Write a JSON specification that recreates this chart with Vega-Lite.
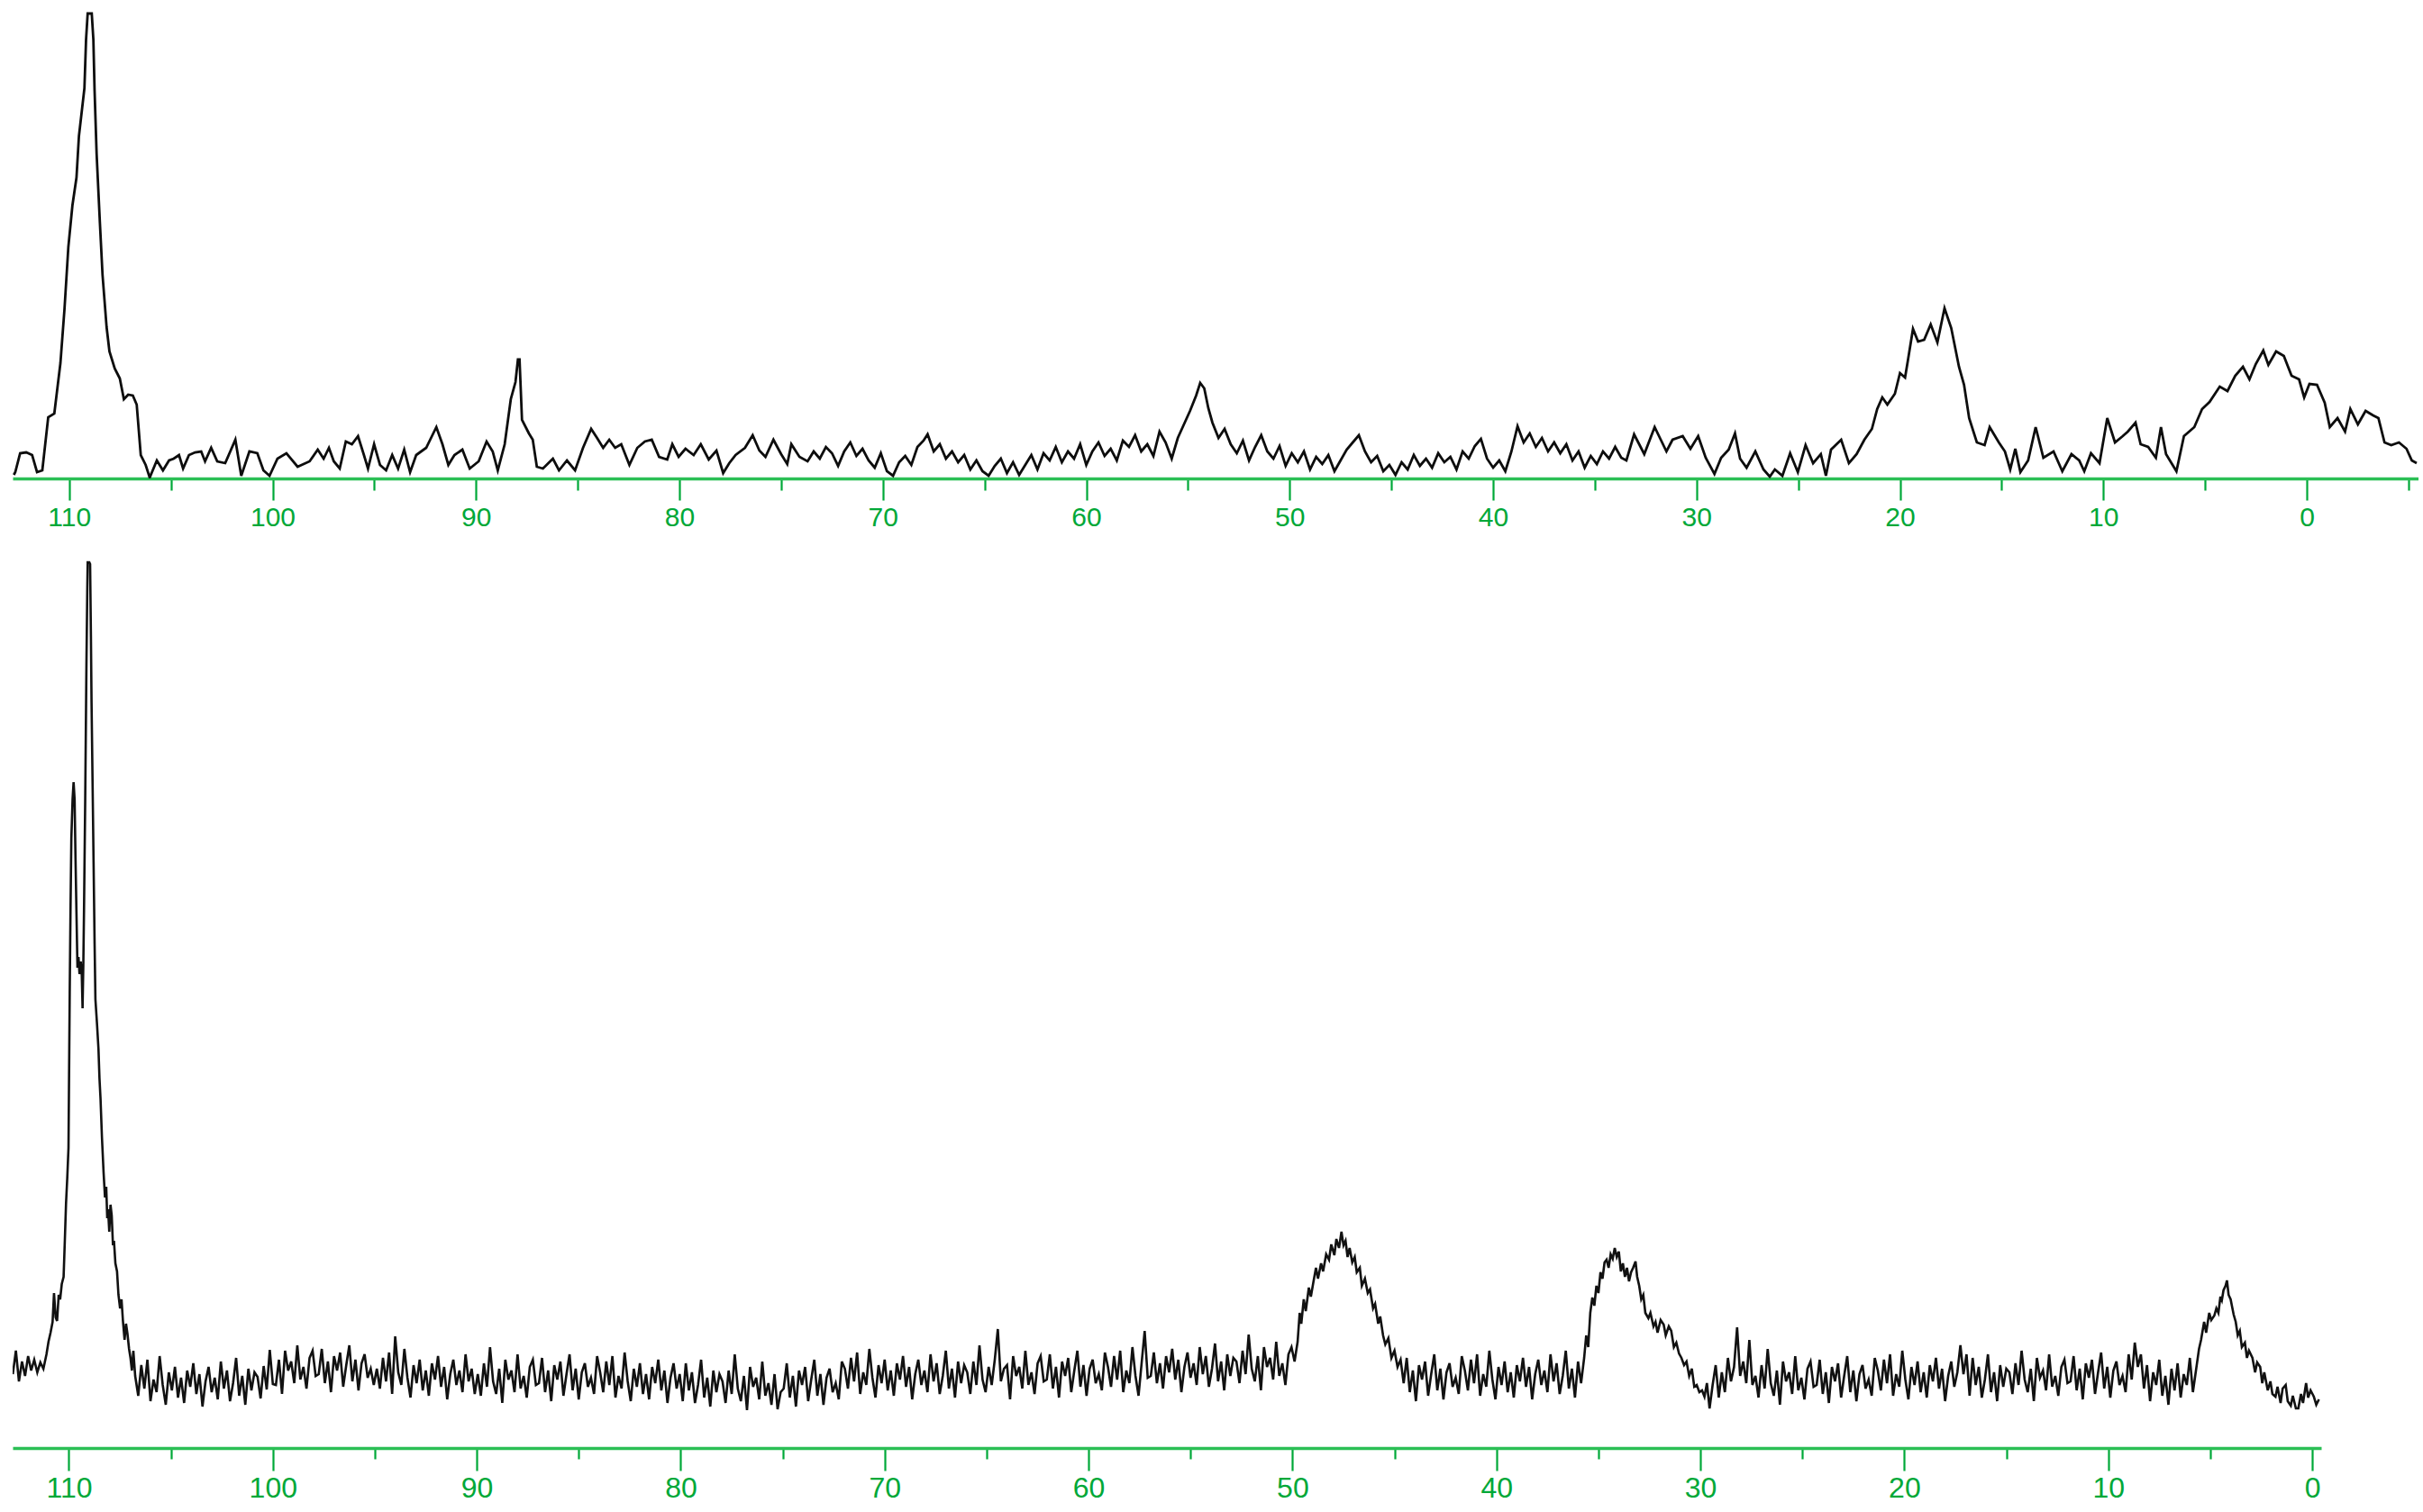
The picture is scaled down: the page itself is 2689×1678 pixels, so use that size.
{
"$schema":"https://vega.github.io/schema/vega-lite/v6.json",
"padding":{"left":14,"top":0,"right":0,"bottom":0},
"autosize":{"type":"pad"},
"background":"white",
"bounds":"flush",
"spacing":79,
"config":{"view":{"stroke":null},"axis":{"title":null,"grid":false,"domainColor":"#2bbf55","domainWidth":3.5,"tickColor":"#00a838","tickWidth":2.2,"labelColor":"#00a838","labelFont":"Liberation Sans","labelFlush":false,"labelOverlap":false}},
"datasets":{
"top":[
{"x":112.72,"y":4},{"x":112.65,"y":7},{"x":112.41,"y":28},{"x":112.11,"y":29},{"x":111.82,"y":26},{"x":111.58,"y":7},{"x":111.32,"y":9},{"x":111.03,"y":68},{"x":110.73,"y":72},{"x":110.43,"y":128},{"x":110.23,"y":188},{"x":110.04,"y":257},{"x":109.84,"y":303},{"x":109.64,"y":334},{"x":109.52,"y":380},{"x":109.25,"y":433},{"x":109.17,"y":487},{"x":109.09,"y":516},{"x":108.89,"y":516},{"x":108.81,"y":487},{"x":108.75,"y":430},{"x":108.65,"y":360},{"x":108.49,"y":284},{"x":108.36,"y":226},{"x":108.16,"y":168},{"x":108.02,"y":141},{"x":107.76,"y":122},{"x":107.51,"y":111},{"x":107.31,"y":88},{"x":107.1,"y":93},{"x":106.87,"y":92},{"x":106.68,"y":82},{"x":106.48,"y":26},{"x":106.24,"y":15},{"x":106.04,"y":1},{"x":105.69,"y":20},{"x":105.39,"y":9},{"x":105.09,"y":20},{"x":104.86,"y":22},{"x":104.6,"y":26},{"x":104.4,"y":11},{"x":104.11,"y":26},{"x":103.81,"y":29},{"x":103.51,"y":30},{"x":103.32,"y":19},{"x":103.02,"y":34},{"x":102.72,"y":19},{"x":102.33,"y":17},{"x":101.83,"y":43},{"x":101.54,"y":3},{"x":101.14,"y":30},{"x":100.75,"y":28},{"x":100.45,"y":9},{"x":100.15,"y":3},{"x":99.76,"y":22},{"x":99.32,"y":28},{"x":98.77,"y":13},{"x":98.18,"y":19},{"x":97.78,"y":32},{"x":97.49,"y":22},{"x":97.23,"y":34},{"x":96.99,"y":19},{"x":96.7,"y":11},{"x":96.4,"y":41},{"x":96.1,"y":38},{"x":95.8,"y":47},{"x":95.51,"y":26},{"x":95.31,"y":11},{"x":95.01,"y":38},{"x":94.72,"y":15},{"x":94.42,"y":9},{"x":94.12,"y":26},{"x":93.83,"y":11},{"x":93.53,"y":32},{"x":93.24,"y":7},{"x":92.94,"y":26},{"x":92.45,"y":34},{"x":91.95,"y":57},{"x":91.65,"y":38},{"x":91.36,"y":15},{"x":91.06,"y":26},{"x":90.67,"y":32},{"x":90.31,"y":11},{"x":89.87,"y":19},{"x":89.48,"y":41},{"x":89.18,"y":30},{"x":88.93,"y":9},{"x":88.59,"y":38},{"x":88.29,"y":88},{"x":88.06,"y":107},{"x":87.94,"y":132},{"x":87.86,"y":132},{"x":87.74,"y":65},{"x":87.4,"y":50},{"x":87.21,"y":43},{"x":87.01,"y":13},{"x":86.71,"y":11},{"x":86.22,"y":22},{"x":85.92,"y":9},{"x":85.53,"y":20},{"x":85.13,"y":9},{"x":84.74,"y":34},{"x":84.34,"y":55},{"x":84.05,"y":45},{"x":83.75,"y":34},{"x":83.45,"y":43},{"x":83.16,"y":34},{"x":82.86,"y":38},{"x":82.46,"y":15},{"x":82.07,"y":34},{"x":81.7,"y":41},{"x":81.36,"y":43},{"x":81.0,"y":24},{"x":80.6,"y":21},{"x":80.35,"y":38},{"x":80.04,"y":24},{"x":79.7,"y":33},{"x":79.3,"y":26},{"x":78.95,"y":38},{"x":78.56,"y":21},{"x":78.18,"y":31},{"x":77.85,"y":6},{"x":77.55,"y":17},{"x":77.24,"y":26},{"x":76.78,"y":34},{"x":76.4,"y":48},{"x":76.07,"y":31},{"x":75.77,"y":24},{"x":75.38,"y":43},{"x":75.0,"y":27},{"x":74.7,"y":16},{"x":74.5,"y":38},{"x":74.1,"y":24},{"x":73.7,"y":19},
{"x":73.4,"y":30},{"x":73.1,"y":22},{"x":72.8,"y":35},{"x":72.5,"y":28},{"x":72.2,"y":14},{"x":71.9,"y":30},{"x":71.6,"y":40},{"x":71.3,"y":25},{"x":71.0,"y":33},{"x":70.7,"y":20},{"x":70.4,"y":12},{"x":70.1,"y":28},{"x":69.8,"y":8},{"x":69.5,"y":3},{"x":69.2,"y":18},{"x":68.9,"y":25},{"x":68.6,"y":15},{"x":68.3,"y":35},{"x":68.0,"y":42},{"x":67.8,"y":49},{"x":67.5,"y":30},{"x":67.2,"y":38},{"x":66.9,"y":22},{"x":66.6,"y":30},{"x":66.3,"y":18},{"x":66.0,"y":26},{"x":65.7,"y":10},{"x":65.4,"y":20},{"x":65.1,"y":8},{"x":64.8,"y":3},{"x":64.5,"y":14},{"x":64.2,"y":22},{"x":63.9,"y":6},{"x":63.6,"y":18},{"x":63.3,"y":4},{"x":63.0,"y":15},{"x":62.7,"y":26},{"x":62.4,"y":10},{"x":62.1,"y":28},{"x":61.8,"y":20},{"x":61.5,"y":35},{"x":61.2,"y":18},{"x":60.9,"y":30},{"x":60.6,"y":22},{"x":60.3,"y":38},{"x":60.0,"y":15},{"x":59.7,"y":30},{"x":59.4,"y":40},{"x":59.1,"y":25},{"x":58.8,"y":33},{"x":58.5,"y":20},{"x":58.2,"y":42},{"x":57.9,"y":35},{"x":57.6,"y":48},{"x":57.3,"y":30},{"x":57.0,"y":38},{"x":56.7,"y":25},{"x":56.4,"y":52},{"x":56.1,"y":40},{"x":55.8,"y":22},{"x":55.5,"y":45},{"x":55.2,"y":60},{"x":54.9,"y":75},{"x":54.6,"y":92},{"x":54.4,"y":106},{"x":54.2,"y":100},{"x":54.0,"y":78},{"x":53.8,"y":62},{"x":53.5,"y":45},{"x":53.2,"y":55},{"x":52.9,"y":38},{"x":52.6,"y":28},{"x":52.3,"y":42},{"x":52.0,"y":20},{"x":51.7,"y":35},{"x":51.4,"y":48},{"x":51.1,"y":30},{"x":50.8,"y":22},{"x":50.5,"y":36},{"x":50.2,"y":14},{"x":49.9,"y":28},{"x":49.6,"y":18},{"x":49.3,"y":30},{"x":49.0,"y":10},{"x":48.7,"y":24},{"x":48.4,"y":16},{"x":48.1,"y":26},{"x":47.8,"y":8},{"x":47.5,"y":20},{"x":47.2,"y":32},{"x":46.9,"y":40},{"x":46.6,"y":48},{"x":46.3,"y":30},{"x":46.0,"y":18},{"x":45.7,"y":25},{"x":45.4,"y":8},{"x":45.1,"y":15},{"x":44.8,"y":4},{"x":44.5,"y":18},{"x":44.2,"y":10},{"x":43.9,"y":26},{"x":43.6,"y":14},{"x":43.3,"y":22},{"x":43.0,"y":12},{"x":42.7,"y":28},{"x":42.4,"y":18},{"x":42.1,"y":24},{"x":41.8,"y":10},{"x":41.5,"y":30},{"x":41.2,"y":22},{"x":40.9,"y":36},{"x":40.6,"y":44},{"x":40.3,"y":22},{"x":40.0,"y":12},{"x":39.7,"y":20},{"x":39.4,"y":8},{"x":39.1,"y":30},{"x":38.8,"y":58},{"x":38.5,"y":40},{"x":38.2,"y":50},{"x":37.9,"y":35},{"x":37.6,"y":45},{"x":37.3,"y":30},{"x":37.0,"y":40},{"x":36.7,"y":28},{"x":36.4,"y":38},{"x":36.1,"y":20},{"x":35.8,"y":30},{"x":35.5,"y":12},{"x":35.2,"y":25},{"x":34.9,"y":16},{"x":34.6,"y":30},{"x":34.3,"y":22},{"x":34.0,"y":35},
{"x":33.7,"y":23},{"x":33.45,"y":20},{"x":33.07,"y":49},{"x":32.57,"y":27},{"x":32.06,"y":57},{"x":31.48,"y":30},{"x":31.18,"y":43},{"x":30.68,"y":47},{"x":30.3,"y":33},{"x":29.92,"y":47},{"x":29.55,"y":23},{"x":29.12,"y":5},{"x":28.79,"y":23},{"x":28.42,"y":32},{"x":28.11,"y":50},{"x":27.86,"y":22},{"x":27.54,"y":12},{"x":27.11,"y":30},{"x":26.71,"y":10},{"x":26.4,"y":2},{"x":26.15,"y":10},{"x":25.78,"y":3},{"x":25.4,"y":28},{"x":25.02,"y":7},{"x":24.64,"y":37},{"x":24.27,"y":17},{"x":23.89,"y":27},{"x":23.64,"y":3},{"x":23.39,"y":32},{"x":22.89,"y":43},{"x":22.51,"y":17},{"x":22.13,"y":27},{"x":21.75,"y":43},{"x":21.38,"y":55},{"x":21.12,"y":77},{"x":20.87,"y":90},{"x":20.62,"y":82},{"x":20.25,"y":94},{"x":20.0,"y":117},{"x":19.75,"y":112},{"x":19.61,"y":131},{"x":19.36,"y":166},{"x":19.11,"y":152},{"x":18.81,"y":154},{"x":18.49,"y":171},{"x":18.16,"y":151},{"x":17.81,"y":189},{"x":17.48,"y":167},{"x":17.1,"y":124},{"x":16.85,"y":104},{"x":16.6,"y":67},{"x":16.22,"y":40},{"x":15.84,"y":37},{"x":15.59,"y":57},{"x":15.14,"y":40},{"x":14.84,"y":30},{"x":14.58,"y":10},{"x":14.33,"y":33},{"x":14.08,"y":7},{"x":13.7,"y":20},{"x":13.33,"y":57},{"x":12.95,"y":23},{"x":12.45,"y":30},{"x":12.02,"y":8},{"x":11.57,"y":27},{"x":11.19,"y":20},{"x":10.94,"y":8},{"x":10.61,"y":28},{"x":10.19,"y":17},{"x":9.81,"y":67},{"x":9.43,"y":40},{"x":9.05,"y":47},{"x":8.8,"y":52},{"x":8.42,"y":62},{"x":8.17,"y":38},{"x":7.8,"y":35},{"x":7.42,"y":23},{"x":7.17,"y":57},{"x":6.92,"y":27},{"x":6.41,"y":8},{"x":6.04,"y":47},{"x":5.53,"y":57},{"x":5.15,"y":77},{"x":4.78,"y":85},{"x":4.28,"y":102},{"x":3.9,"y":97},{"x":3.52,"y":114},{"x":3.14,"y":124},{"x":2.82,"y":110},{"x":2.51,"y":127},{"x":2.14,"y":142},{"x":1.89,"y":126},{"x":1.51,"y":141},{"x":1.13,"y":136},{"x":0.75,"y":114},{"x":0.38,"y":110},{"x":0.13,"y":90},{"x":-0.13,"y":105},{"x":-0.5,"y":104},{"x":-0.88,"y":84},{"x":-1.13,"y":57},{"x":-1.51,"y":67},{"x":-1.88,"y":52},{"x":-2.14,"y":77},{"x":-2.51,"y":60},{"x":-2.89,"y":75},{"x":-3.26,"y":70},{"x":-3.52,"y":67},{"x":-3.82,"y":40},{"x":-4.15,"y":37},{"x":-4.53,"y":40},{"x":-4.9,"y":33},{"x":-5.16,"y":20},{"x":-5.4,"y":17}
],
"bottom":[
{"x":112.75,"y":82},{"x":112.6,"y":108},{"x":112.45,"y":74},{"x":112.3,"y":96},{"x":112.15,"y":80},{"x":112.0,"y":102},{"x":111.85,"y":86},{"x":111.7,"y":98},{"x":111.55,"y":84},{"x":111.4,"y":95},{"x":111.25,"y":88},{"x":111.1,"y":104},
{"x":111.0,"y":118},{"x":110.9,"y":128},{"x":110.8,"y":140},{"x":110.73,"y":172},{"x":110.65,"y":145},{"x":110.58,"y":141},{"x":110.5,"y":170},{"x":110.43,"y":165},{"x":110.35,"y":182},{"x":110.26,"y":190},{"x":110.2,"y":230},{"x":110.14,"y":272},{"x":110.08,"y":300},{"x":110.02,"y":333},{"x":109.96,"y":505},{"x":109.92,"y":600},{"x":109.88,"y":677},{"x":109.82,"y":720},{"x":109.77,"y":739},{"x":109.72,"y":720},{"x":109.68,"y":660},{"x":109.63,"y":595},{"x":109.58,"y":533},{"x":109.53,"y":545},{"x":109.48,"y":526},{"x":109.42,"y":540},{"x":109.37,"y":526},{"x":109.33,"y":488},{"x":109.29,"y":540},{"x":109.26,"y":595},{"x":109.2,"y":720},{"x":109.14,"y":870},{"x":109.1,"y":950},{"x":109.08,"y":983},{"x":109.0,"y":983},{"x":108.96,"y":981},{"x":108.92,"y":900},{"x":108.89,"y":828},{"x":108.84,"y":740},{"x":108.79,"y":650},{"x":108.74,"y":560},{"x":108.7,"y":498},{"x":108.62,"y":470},{"x":108.55,"y":443},{"x":108.5,"y":410},{"x":108.45,"y":388},{"x":108.38,"y":345},{"x":108.3,"y":306},{"x":108.23,"y":278},{"x":108.17,"y":290},{"x":108.12,"y":255},{"x":108.08,"y":265},{"x":108.02,"y":240},{"x":107.96,"y":270},{"x":107.9,"y":258},{"x":107.84,"y":225},{"x":107.79,"y":230},{"x":107.72,"y":205},{"x":107.64,"y":196},{"x":107.57,"y":170},{"x":107.49,"y":155},{"x":107.42,"y":165},{"x":107.35,"y":141},{"x":107.27,"y":120},{"x":107.2,"y":138},{"x":107.13,"y":127},{"x":107.05,"y":110},{"x":106.98,"y":100},{"x":106.91,"y":86},{"x":106.84,"y":108},
{"x":106.75,"y":80},{"x":106.6,"y":58},{"x":106.45,"y":92},{"x":106.3,"y":66},{"x":106.15,"y":98},{"x":106.0,"y":52},{"x":105.85,"y":76},{"x":105.7,"y":62},{"x":105.55,"y":102},{"x":105.4,"y":70},{"x":105.25,"y":48},{"x":105.1,"y":84},{"x":104.95,"y":64},{"x":104.8,"y":90},{"x":104.65,"y":56},{"x":104.5,"y":78},{"x":104.35,"y":50},{"x":104.2,"y":86},{"x":104.05,"y":68},{"x":103.9,"y":94},{"x":103.75,"y":60},{"x":103.6,"y":82},{"x":103.45,"y":46},{"x":103.3,"y":74},{"x":103.15,"y":90},{"x":103.0,"y":62},{"x":102.85,"y":78},{"x":102.7,"y":54},{"x":102.55,"y":96},{"x":102.4,"y":66},{"x":102.25,"y":86},{"x":102.1,"y":52},{"x":101.95,"y":72},{"x":101.8,"y":100},{"x":101.65,"y":58},{"x":101.5,"y":80},{"x":101.35,"y":48},{"x":101.2,"y":88},{"x":101.05,"y":64},{"x":100.9,"y":84},{"x":100.75,"y":79},{"x":100.6,"y":55},{"x":100.45,"y":91},{"x":100.3,"y":65},{"x":100.15,"y":109},{"x":100.0,"y":71},
{"x":99.85,"y":70},{"x":99.7,"y":98},{"x":99.55,"y":60},{"x":99.4,"y":108},{"x":99.25,"y":86},{"x":99.1,"y":96},{"x":98.95,"y":72},{"x":98.8,"y":114},{"x":98.65,"y":76},{"x":98.5,"y":90},{"x":98.35,"y":66},{"x":98.2,"y":100},{"x":98.05,"y":108},{"x":97.9,"y":80},{"x":97.75,"y":82},{"x":97.6,"y":110},{"x":97.45,"y":72},{"x":97.3,"y":96},{"x":97.15,"y":62},{"x":97.0,"y":102},{"x":96.85,"y":86},{"x":96.7,"y":106},{"x":96.55,"y":68},{"x":96.4,"y":92},{"x":96.25,"y":114},{"x":96.1,"y":74},{"x":95.95,"y":98},{"x":95.8,"y":64},{"x":95.65,"y":94},{"x":95.5,"y":104},{"x":95.35,"y":78},{"x":95.2,"y":88},{"x":95.05,"y":70},
{"x":94.9,"y":88},{"x":94.75,"y":66},{"x":94.6,"y":100},{"x":94.45,"y":74},{"x":94.3,"y":106},{"x":94.15,"y":60},{"x":94.0,"y":124},{"x":93.85,"y":84},{"x":93.7,"y":70},{"x":93.55,"y":110},{"x":93.4,"y":78},{"x":93.25,"y":56},{"x":93.1,"y":92},{"x":92.95,"y":72},{"x":92.8,"y":98},{"x":92.65,"y":64},{"x":92.5,"y":86},{"x":92.35,"y":58},{"x":92.2,"y":94},{"x":92.05,"y":76},{"x":91.9,"y":102},{"x":91.75,"y":68},{"x":91.6,"y":90},{"x":91.45,"y":54},{"x":91.3,"y":82},{"x":91.15,"y":98},{"x":91.0,"y":70},{"x":90.85,"y":86},{"x":90.7,"y":62},{"x":90.55,"y":104},{"x":90.4,"y":74},{"x":90.25,"y":88},{"x":90.1,"y":60},
{"x":89.95,"y":82},{"x":89.8,"y":58},{"x":89.65,"y":94},{"x":89.5,"y":68},{"x":89.35,"y":112},{"x":89.2,"y":74},{"x":89.05,"y":60},{"x":88.9,"y":88},{"x":88.75,"y":50},{"x":88.6,"y":98},{"x":88.45,"y":76},{"x":88.3,"y":86},{"x":88.15,"y":62},{"x":88.0,"y":104},{"x":87.85,"y":66},{"x":87.7,"y":80},{"x":87.55,"y":56},{"x":87.4,"y":90},{"x":87.25,"y":98},{"x":87.1,"y":70},{"x":86.95,"y":72},{"x":86.8,"y":100},{"x":86.65,"y":62},{"x":86.5,"y":86},{"x":86.35,"y":52},{"x":86.2,"y":92},{"x":86.05,"y":76},{"x":85.9,"y":96},{"x":85.75,"y":58},{"x":85.6,"y":82},{"x":85.45,"y":104},{"x":85.3,"y":64},{"x":85.15,"y":88},{"x":85.0,"y":54},{"x":84.85,"y":84},{"x":84.7,"y":94},{"x":84.55,"y":68},{"x":84.4,"y":78},{"x":84.25,"y":60},{"x":84.1,"y":102},{"x":83.95,"y":84},{"x":83.8,"y":62},{"x":83.65,"y":96},{"x":83.5,"y":70},{"x":83.35,"y":102},{"x":83.2,"y":56},{"x":83.05,"y":80},{"x":82.9,"y":66},{"x":82.75,"y":106},{"x":82.6,"y":74},{"x":82.45,"y":52},{"x":82.3,"y":88},{"x":82.15,"y":68},{"x":82.0,"y":94},{"x":81.85,"y":60},{"x":81.7,"y":82},{"x":81.55,"y":54},{"x":81.4,"y":90},{"x":81.25,"y":72},{"x":81.1,"y":98},{"x":80.95,"y":64},{"x":80.8,"y":86},{"x":80.65,"y":50},{"x":80.5,"y":78},{"x":80.35,"y":94},{"x":80.2,"y":66},{"x":80.05,"y":82},
{"x":79.9,"y":52},{"x":79.75,"y":94},{"x":79.6,"y":64},{"x":79.45,"y":84},{"x":79.3,"y":50},{"x":79.15,"y":70},{"x":79.0,"y":98},{"x":78.85,"y":56},{"x":78.7,"y":78},{"x":78.55,"y":46},{"x":78.4,"y":86},{"x":78.25,"y":62},{"x":78.1,"y":82},{"x":77.95,"y":74},{"x":77.8,"y":50},{"x":77.65,"y":86},{"x":77.5,"y":60},{"x":77.35,"y":104},{"x":77.2,"y":66},{"x":77.05,"y":52},{"x":76.9,"y":80},{"x":76.75,"y":42},{"x":76.6,"y":90},{"x":76.45,"y":68},{"x":76.3,"y":78},{"x":76.15,"y":54},{"x":76.0,"y":96},{"x":75.85,"y":58},{"x":75.7,"y":72},{"x":75.55,"y":48},{"x":75.4,"y":82},{"x":75.25,"y":43},{"x":75.1,"y":62},{"x":74.95,"y":66},{"x":74.8,"y":94},{"x":74.65,"y":56},{"x":74.5,"y":80},{"x":74.35,"y":46},{"x":74.2,"y":86},{"x":74.05,"y":70},{"x":73.9,"y":90},{"x":73.75,"y":52},{"x":73.6,"y":76},{"x":73.45,"y":98},{"x":73.3,"y":58},{"x":73.15,"y":82},{"x":73.0,"y":48},{"x":72.85,"y":78},{"x":72.7,"y":88},{"x":72.55,"y":62},{"x":72.4,"y":72},{"x":72.25,"y":54},{"x":72.1,"y":96},
{"x":71.95,"y":88},{"x":71.8,"y":66},{"x":71.65,"y":100},{"x":71.5,"y":74},{"x":71.35,"y":106},{"x":71.2,"y":60},{"x":71.05,"y":84},{"x":70.9,"y":70},{"x":70.75,"y":110},{"x":70.6,"y":78},{"x":70.45,"y":56},{"x":70.3,"y":92},{"x":70.15,"y":72},{"x":70.0,"y":98},{"x":69.85,"y":64},{"x":69.7,"y":86},{"x":69.55,"y":58},{"x":69.4,"y":94},{"x":69.25,"y":76},{"x":69.1,"y":102},{"x":68.95,"y":68},{"x":68.8,"y":90},{"x":68.65,"y":54},{"x":68.5,"y":82},{"x":68.35,"y":98},{"x":68.2,"y":70},{"x":68.05,"y":86},{"x":67.9,"y":62},{"x":67.75,"y":104},{"x":67.6,"y":74},{"x":67.45,"y":94},{"x":67.3,"y":60},{"x":67.15,"y":80},{"x":67.0,"y":108},{"x":66.85,"y":66},{"x":66.7,"y":88},{"x":66.55,"y":56},{"x":66.4,"y":96},{"x":66.25,"y":72},{"x":66.1,"y":92},{"x":65.95,"y":84},{"x":65.8,"y":60},{"x":65.65,"y":96},{"x":65.5,"y":70},{"x":65.35,"y":114},{"x":65.2,"y":76},{"x":65.05,"y":62},
{"x":64.9,"y":90},{"x":64.75,"y":70},{"x":64.6,"y":98},{"x":64.45,"y":132},{"x":64.3,"y":74},{"x":64.15,"y":88},
{"x":64.0,"y":92},{"x":63.85,"y":54},{"x":63.7,"y":102},{"x":63.55,"y":80},{"x":63.4,"y":90},{"x":63.25,"y":66},{"x":63.1,"y":108},{"x":62.95,"y":70},{"x":62.8,"y":84},{"x":62.65,"y":60},{"x":62.5,"y":94},{"x":62.35,"y":102},{"x":62.2,"y":74},{"x":62.05,"y":76},{"x":61.9,"y":104},{"x":61.75,"y":66},{"x":61.6,"y":90},{"x":61.45,"y":56},{"x":61.3,"y":96},{"x":61.15,"y":80},{"x":61.0,"y":100},{"x":60.85,"y":62},{"x":60.7,"y":86},{"x":60.55,"y":108},{"x":60.4,"y":68},{"x":60.25,"y":92},{"x":60.1,"y":58},{"x":59.95,"y":88},{"x":59.8,"y":98},{"x":59.65,"y":72},{"x":59.5,"y":82},{"x":59.35,"y":64},{"x":59.2,"y":106},{"x":59.05,"y":90},{"x":58.9,"y":68},{"x":58.75,"y":102},{"x":58.6,"y":76},{"x":58.45,"y":108},{"x":58.3,"y":62},{"x":58.15,"y":86},{"x":58.0,"y":72},{"x":57.85,"y":112},{"x":57.7,"y":80},{"x":57.55,"y":58},{"x":57.4,"y":94},
{"x":57.25,"y":130},{"x":57.1,"y":78},
{"x":56.95,"y":80},{"x":56.8,"y":106},{"x":56.65,"y":72},{"x":56.5,"y":94},{"x":56.35,"y":66},{"x":56.2,"y":102},{"x":56.05,"y":84},{"x":55.9,"y":110},{"x":55.75,"y":76},{"x":55.6,"y":98},{"x":55.45,"y":62},{"x":55.3,"y":90},{"x":55.15,"y":106},{"x":55.0,"y":78},{"x":54.85,"y":94},{"x":54.7,"y":70},{"x":54.55,"y":112},{"x":54.4,"y":82},{"x":54.25,"y":102},{"x":54.1,"y":68},{"x":53.95,"y":88},{"x":53.8,"y":116},{"x":53.65,"y":74},{"x":53.5,"y":96},{"x":53.35,"y":64},{"x":53.2,"y":104},{"x":53.05,"y":80},{"x":52.9,"y":100},{"x":52.75,"y":96},{"x":52.6,"y":72},{"x":52.45,"y":108},{"x":52.3,"y":82},{"x":52.15,"y":126},{"x":52.0,"y":88},{"x":51.85,"y":74},{"x":51.7,"y":102},{"x":51.55,"y":64},{"x":51.4,"y":112},{"x":51.25,"y":90},{"x":51.1,"y":100},{"x":50.95,"y":76},{"x":50.8,"y":118},{"x":50.65,"y":80},{"x":50.5,"y":94},{"x":50.35,"y":70},{"x":50.2,"y":104},{"x":50.05,"y":112},
{"x":49.9,"y":96},{"x":49.75,"y":118},{"x":49.65,"y":150},{"x":49.57,"y":138},{"x":49.45,"y":165},{"x":49.35,"y":152},{"x":49.2,"y":178},{"x":49.1,"y":168},{"x":48.97,"y":185},{"x":48.85,"y":200},{"x":48.75,"y":188},{"x":48.6,"y":205},{"x":48.5,"y":196},{"x":48.35,"y":215},{"x":48.21,"y":209},{"x":48.1,"y":226},{"x":47.95,"y":214},{"x":47.85,"y":232},{"x":47.72,"y":222},{"x":47.6,"y":240},{"x":47.5,"y":225},{"x":47.4,"y":230},{"x":47.3,"y":212},{"x":47.2,"y":222},{"x":47.07,"y":206},{"x":46.95,"y":212},{"x":46.85,"y":195},{"x":46.7,"y":200},{"x":46.6,"y":180},{"x":46.45,"y":188},{"x":46.31,"y":172},{"x":46.2,"y":176},{"x":46.05,"y":155},{"x":45.95,"y":160},{"x":45.8,"y":138},{"x":45.7,"y":146},{"x":45.56,"y":125},{"x":45.45,"y":115},{"x":45.3,"y":122},{"x":45.15,"y":100},{"x":45.0,"y":108},{"x":44.85,"y":90},{"x":44.7,"y":98},
{"x":44.55,"y":72},{"x":44.4,"y":100},{"x":44.25,"y":62},{"x":44.1,"y":86},{"x":43.95,"y":52},{"x":43.8,"y":92},{"x":43.65,"y":76},{"x":43.5,"y":96},{"x":43.35,"y":58},{"x":43.2,"y":82},{"x":43.05,"y":104},{"x":42.9,"y":64},{"x":42.75,"y":88},{"x":42.6,"y":54},{"x":42.45,"y":84},{"x":42.3,"y":94},{"x":42.15,"y":68},{"x":42.0,"y":78},{"x":41.85,"y":60},{"x":41.7,"y":102},{"x":41.55,"y":86},{"x":41.4,"y":64},{"x":41.25,"y":98},{"x":41.1,"y":72},{"x":40.95,"y":104},{"x":40.8,"y":58},{"x":40.65,"y":82},{"x":40.5,"y":68},{"x":40.35,"y":108},{"x":40.2,"y":76},{"x":40.05,"y":54},{"x":39.9,"y":90},{"x":39.75,"y":70},{"x":39.6,"y":96},{"x":39.45,"y":62},{"x":39.3,"y":84},{"x":39.15,"y":56},{"x":39.0,"y":92},{"x":38.85,"y":74},{"x":38.7,"y":100},{"x":38.55,"y":68},{"x":38.4,"y":90},{"x":38.25,"y":54},{"x":38.1,"y":82},{"x":37.95,"y":98},{"x":37.8,"y":70},{"x":37.65,"y":86},{"x":37.5,"y":62},{"x":37.35,"y":104},{"x":37.2,"y":74},{"x":37.05,"y":94},{"x":36.9,"y":60},{"x":36.75,"y":80},{"x":36.6,"y":108},{"x":36.45,"y":66},{"x":36.3,"y":88},{"x":36.15,"y":56},{"x":36.0,"y":96},{"x":35.85,"y":72},
{"x":35.7,"y":100},{"x":35.6,"y":125},{"x":35.5,"y":112},{"x":35.4,"y":150},{"x":35.3,"y":167},{"x":35.2,"y":158},{"x":35.1,"y":180},{"x":35.0,"y":172},{"x":34.9,"y":195},{"x":34.8,"y":188},{"x":34.7,"y":206},{"x":34.6,"y":209},{"x":34.5,"y":200},{"x":34.4,"y":215},{"x":34.3,"y":210},{"x":34.2,"y":222},{"x":34.1,"y":212},{"x":34.0,"y":218},{"x":33.9,"y":196},{"x":33.8,"y":205},{"x":33.7,"y":190},{"x":33.6,"y":200},{"x":33.5,"y":185},{"x":33.4,"y":195},{"x":33.3,"y":200},{"x":33.18,"y":207},{"x":33.1,"y":190},{"x":33.0,"y":180},{"x":32.9,"y":165},{"x":32.8,"y":170},{"x":32.7,"y":150},{"x":32.55,"y":144},{"x":32.45,"y":150},{"x":32.3,"y":135},{"x":32.2,"y":140},{"x":32.1,"y":128},{"x":31.95,"y":142},{"x":31.8,"y":137},{"x":31.7,"y":125},{"x":31.55,"y":135},{"x":31.43,"y":130},{"x":31.3,"y":112},{"x":31.18,"y":117},{"x":31.05,"y":105},{"x":30.93,"y":100},{"x":30.8,"y":92},{"x":30.68,"y":96},{"x":30.55,"y":80},{"x":30.42,"y":88},{"x":30.3,"y":68},{"x":30.18,"y":70},{"x":30.05,"y":62},{"x":29.92,"y":64},{"x":29.8,"y":57},{"x":29.68,"y":72},{"x":29.55,"y":44},
{"x":29.4,"y":70},{"x":29.25,"y":92},{"x":29.1,"y":56},{"x":28.95,"y":84},{"x":28.8,"y":62},{"x":28.65,"y":100},{"x":28.5,"y":74},{"x":28.35,"y":90},{"x":28.2,"y":134},{"x":28.05,"y":80},{"x":27.9,"y":96},{"x":27.75,"y":72},{"x":27.6,"y":120},{"x":27.45,"y":70},
{"x":27.3,"y":80},{"x":27.15,"y":56},{"x":27.0,"y":92},{"x":26.85,"y":66},{"x":26.7,"y":110},{"x":26.55,"y":72},{"x":26.4,"y":58},{"x":26.25,"y":86},{"x":26.1,"y":48},{"x":25.95,"y":96},{"x":25.8,"y":74},{"x":25.65,"y":84},{"x":25.5,"y":60},{"x":25.35,"y":102},{"x":25.2,"y":64},{"x":25.05,"y":78},{"x":24.9,"y":54},{"x":24.75,"y":88},{"x":24.6,"y":96},{"x":24.45,"y":68},{"x":24.3,"y":70},{"x":24.15,"y":98},{"x":24.0,"y":60},{"x":23.85,"y":84},{"x":23.7,"y":50},{"x":23.55,"y":90},{"x":23.4,"y":74},{"x":23.25,"y":94},{"x":23.1,"y":56},{"x":22.95,"y":80},{"x":22.8,"y":102},{"x":22.65,"y":62},{"x":22.5,"y":86},{"x":22.35,"y":52},{"x":22.2,"y":82},{"x":22.05,"y":92},{"x":21.9,"y":66},{"x":21.75,"y":76},{"x":21.6,"y":58},{"x":21.45,"y":100},{"x":21.3,"y":86},{"x":21.15,"y":64},{"x":21.0,"y":98},{"x":20.85,"y":72},{"x":20.7,"y":104},{"x":20.55,"y":58},{"x":20.4,"y":82},{"x":20.25,"y":68},{"x":20.1,"y":108},{"x":19.95,"y":76},{"x":19.8,"y":54},{"x":19.65,"y":90},{"x":19.5,"y":70},{"x":19.35,"y":96},{"x":19.2,"y":62},{"x":19.05,"y":84},{"x":18.9,"y":56},{"x":18.75,"y":92},{"x":18.6,"y":74},{"x":18.45,"y":100},{"x":18.3,"y":66},{"x":18.15,"y":88},{"x":18.0,"y":52},{"x":17.85,"y":80},{"x":17.7,"y":96},{"x":17.55,"y":68},{"x":17.4,"y":84},
{"x":17.25,"y":114},{"x":17.1,"y":82},{"x":16.95,"y":104},
{"x":16.8,"y":58},{"x":16.65,"y":100},{"x":16.5,"y":70},{"x":16.35,"y":90},{"x":16.2,"y":56},{"x":16.05,"y":76},{"x":15.9,"y":104},{"x":15.75,"y":62},{"x":15.6,"y":84},{"x":15.45,"y":52},{"x":15.3,"y":92},{"x":15.15,"y":68},{"x":15.0,"y":88},{"x":14.85,"y":84},{"x":14.7,"y":60},{"x":14.55,"y":94},{"x":14.4,"y":70},{"x":14.25,"y":108},{"x":14.1,"y":76},{"x":13.95,"y":62},{"x":13.8,"y":88},{"x":13.65,"y":52},{"x":13.5,"y":100},{"x":13.35,"y":78},{"x":13.2,"y":86},{"x":13.05,"y":64},{"x":12.9,"y":104},{"x":12.75,"y":68},{"x":12.6,"y":80},{"x":12.45,"y":58},{"x":12.3,"y":90},{"x":12.15,"y":98},{"x":12.0,"y":72},{"x":11.85,"y":74},{"x":11.7,"y":102},{"x":11.55,"y":64},{"x":11.4,"y":88},{"x":11.25,"y":54},{"x":11.1,"y":94},{"x":10.95,"y":78},{"x":10.8,"y":98},{"x":10.65,"y":60},{"x":10.5,"y":84},{"x":10.35,"y":106},{"x":10.2,"y":66},{"x":10.05,"y":90},{"x":9.9,"y":56},{"x":9.75,"y":86},{"x":9.6,"y":96},{"x":9.45,"y":70},{"x":9.3,"y":80},{"x":9.15,"y":62},{"x":9.0,"y":104},{"x":8.85,"y":76},
{"x":8.7,"y":117},{"x":8.55,"y":90},{"x":8.4,"y":104},
{"x":8.25,"y":66},{"x":8.1,"y":92},{"x":7.95,"y":52},{"x":7.8,"y":84},{"x":7.65,"y":70},{"x":7.5,"y":98},{"x":7.35,"y":58},{"x":7.2,"y":80},{"x":7.05,"y":48},{"x":6.9,"y":88},{"x":6.75,"y":64},{"x":6.6,"y":94},{"x":6.45,"y":56},{"x":6.3,"y":82},{"x":6.15,"y":70},{"x":6.0,"y":100},{"x":5.85,"y":62},{"x":5.7,"y":86},
{"x":5.55,"y":110},{"x":5.45,"y":120},{"x":5.3,"y":140},{"x":5.2,"y":128},{"x":5.05,"y":150},{"x":4.95,"y":142},{"x":4.8,"y":147},{"x":4.7,"y":155},{"x":4.6,"y":150},{"x":4.5,"y":168},{"x":4.43,"y":164},{"x":4.35,"y":175},{"x":4.25,"y":180},{"x":4.18,"y":186},{"x":4.1,"y":170},{"x":4.0,"y":165},{"x":3.93,"y":157},{"x":3.85,"y":148},{"x":3.75,"y":140},{"x":3.65,"y":125},{"x":3.55,"y":130},{"x":3.45,"y":112},{"x":3.3,"y":117},{"x":3.2,"y":100},{"x":3.1,"y":108},{"x":2.93,"y":100},{"x":2.8,"y":84},{"x":2.7,"y":95},{"x":2.55,"y":90},{"x":2.45,"y":72},{"x":2.35,"y":84},{"x":2.18,"y":64},{"x":2.05,"y":74},{"x":1.95,"y":60},{"x":1.8,"y":57},{"x":1.7,"y":68},{"x":1.55,"y":50},{"x":1.45,"y":66},{"x":1.3,"y":70},{"x":1.2,"y":52},{"x":1.05,"y":47},{"x":0.95,"y":58},{"x":0.8,"y":44},{"x":0.68,"y":44},{"x":0.55,"y":60},{"x":0.45,"y":50},{"x":0.3,"y":72},{"x":0.2,"y":56},{"x":0.08,"y":64},{"x":-0.08,"y":57},{"x":-0.2,"y":48},{"x":-0.33,"y":54}
]},
"vconcat":[
{"width":2670,"height":531,"data":{"name":"top"},
"mark":{"type":"line","color":"#0d0d0d","strokeWidth":2.8,"clip":true},
"encoding":{
"x":{"field":"x","type":"quantitative","scale":{"domain":[-5.49,112.78],"reverse":true,"nice":false,"zero":false},
"axis":{"values":[-5,0,5,10,15,20,25,30,35,40,45,50,55,60,65,70,75,80,85,90,95,100,105,110],"tickSize":{"condition":{"test":"datum.value % 10 === 0","value":24},"value":13},"labelExpr":"datum.value % 10 === 0 ? datum.label : ''","labelFontSize":30,"labelPadding":4}},
"y":{"field":"y","type":"quantitative","scale":{"domain":[0,531],"nice":false},"axis":null}}},
{"width":2562,"height":997,"data":{"name":"bottom"},
"mark":{"type":"line","color":"#111111","strokeWidth":2.6,"clip":true},
"encoding":{
"x":{"field":"x","type":"quantitative","scale":{"domain":[-0.44,112.76],"reverse":true,"nice":false,"zero":false},
"axis":{"values":[0,5,10,15,20,25,30,35,40,45,50,55,60,65,70,75,80,85,90,95,100,105,110],"tickSize":{"condition":{"test":"datum.value % 10 === 0","value":25},"value":12},"labelExpr":"datum.value % 10 === 0 ? datum.label : ''","labelFontSize":32,"labelPadding":4}},
"y":{"field":"y","type":"quantitative","scale":{"domain":[0,997],"nice":false},"axis":null}}}
]
}
